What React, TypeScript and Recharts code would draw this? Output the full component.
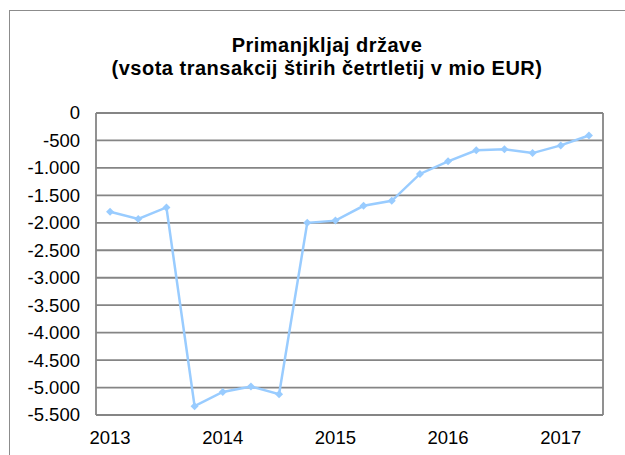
import { LineChart, Line, XAxis, YAxis, CartesianGrid } from 'recharts'

const years = ['2013', '2014', '2015', '2016', '2017']
const quarters = [
  '2013Q1', '2013Q2', '2013Q3', '2013Q4',
  '2014Q1', '2014Q2', '2014Q3', '2014Q4',
  '2015Q1', '2015Q2', '2015Q3', '2015Q4',
  '2016Q1', '2016Q2', '2016Q3', '2016Q4',
  '2017Q1', '2017Q2',
]
const deficit = [
  -1800, -1930, -1720, -5340,
  -5080, -4980, -5120, -2000,
  -1960, -1690, -1600, -1110,
  -880, -680, -660, -730,
  -590, -410,
]
const yTicks = [0, -500, -1000, -1500, -2000, -2500, -3000, -3500, -4000, -4500, -5000, -5500]
const yearTicks = [0, 4, 8, 12, 16]
// quarter boundaries, where the year gridlines go
const gridTicks = [-0.5, 3.5, 7.5, 11.5, 15.5]

const data = quarters.map((q, i) => ({ i, q, value: deficit[i] }))

const fmt = (v: number) => {
  const s = Math.abs(v).toString().replace(/\B(?=(\d{3})+(?!\d))/g, '.')
  return v < 0 ? '-' + s : s
}

const font = '"Liberation Sans", Arial, sans-serif'

const Diamond = (props: any) => {
  const { cx, cy } = props
  if (cx == null || cy == null) return null
  const r = 4
  return (
    <polygon
      points={`${cx},${cy - r} ${cx + r},${cy} ${cx},${cy + r} ${cx - r},${cy}`}
      fill="#99CCFF"
    />
  )
}

const YTick = ({ x, y, payload }: any) => (
  <text x={x} y={y} dy="0.35em" textAnchor="end" fontSize={18.5} fontFamily={font} fill="#000">
    {fmt(payload.value)}
  </text>
)

const XTick = ({ x, y, payload }: any) => (
  <text x={x} y={y} dy="0.71em" textAnchor="middle" fontSize={18.5} fontFamily={font} fill="#000">
    {years[payload.value / 4]}
  </text>
)

export default function App() {
  return (
    <div style={{ position: 'absolute', left: 0, top: 0, width: 625, height: 455, background: '#fff', overflow: 'hidden', fontFamily: font }}>
      <div style={{ position: 'absolute', left: 9, top: 10, width: 640, height: 470, border: '1.5px solid #8c8c8c' }} />
      <div
        style={{
          position: 'absolute',
          left: 0,
          top: 34,
          width: 654,
          textAlign: 'center',
          fontWeight: 'bold',
          fontSize: 20,
          letterSpacing: 0.5,
          lineHeight: '23px',
          color: '#000',
        }}
      >
        Primanjkljaj države
        <br />
        (vsota transakcij štirih četrtletij v mio EUR)
      </div>
      <div style={{ position: 'absolute', left: 0, top: 0 }}>
        <LineChart width={625} height={455} data={data} margin={{ top: 113, right: 22, bottom: 10, left: 10 }}>
          <CartesianGrid xAxisId="grid" stroke="#858585" strokeWidth={1.8} />
          <XAxis
            xAxisId="grid"
            dataKey="i"
            type="number"
            domain={[-0.5, 17.5]}
            ticks={gridTicks}
            tick={false}
            axisLine={false}
            tickLine={false}
            height={0}
          />
          <XAxis
            xAxisId="main"
            dataKey="i"
            type="number"
            domain={[-0.5, 17.5]}
            ticks={yearTicks}
            interval={0}
            tick={<XTick />}
            axisLine={false}
            tickLine={false}
            tickMargin={10}
          />
          <YAxis
            type="number"
            domain={[-5500, 0]}
            ticks={yTicks}
            interval={0}
            tick={<YTick />}
            axisLine={false}
            tickLine={false}
            tickMargin={10}
            width={86}
          />
          <Line
            xAxisId="main"
            type="linear"
            dataKey="value"
            stroke="#99CCFF"
            strokeWidth={2.5}
            dot={<Diamond />}
            activeDot={false}
            isAnimationActive={false}
          />
        </LineChart>
      </div>
    </div>
  )
}
